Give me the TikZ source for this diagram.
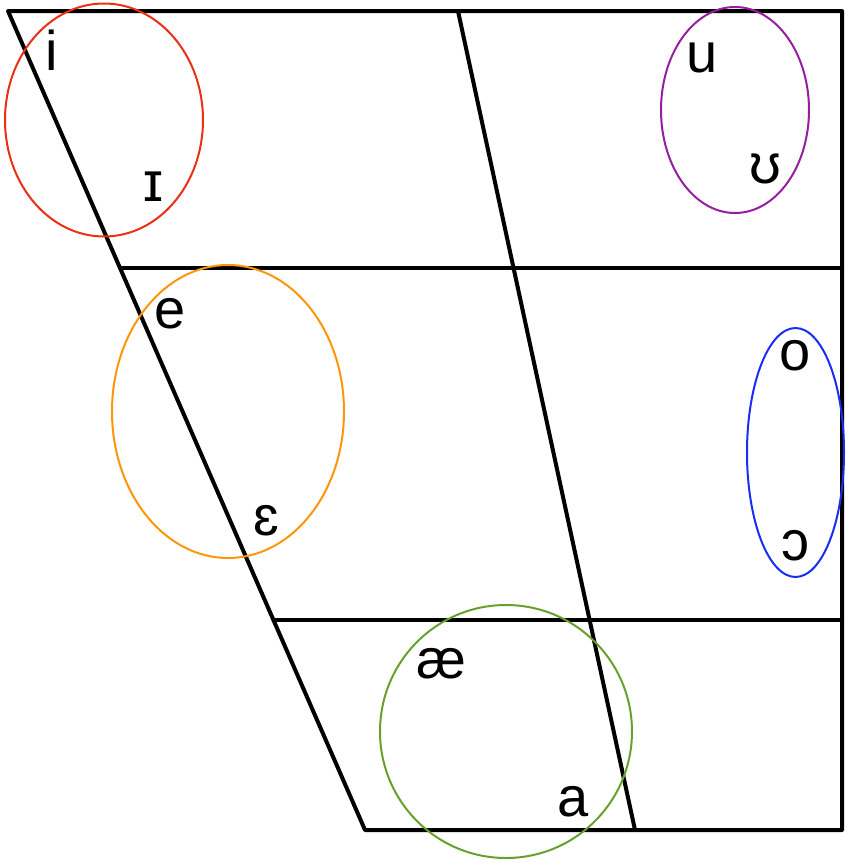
\documentclass[tikz,border=0pt]{standalone}
\usepackage{fontspec}
\setmainfont{Liberation Sans}
\definecolor{closered}{RGB}{232,48,18}
\definecolor{midorange}{RGB}{255,150,10}
\definecolor{backpurple}{RGB}{150,30,160}
\definecolor{backblue}{RGB}{25,45,245}
\definecolor{opengreen}{RGB}{105,160,45}
\begin{document}
\begin{tikzpicture}[x=0.5pt,y=-0.5pt,
    chart/.style={line width=2pt, line cap=round, line join=round},
    ring/.style={line width=1pt},
    vowel/.style={anchor=base, inner sep=0pt, font=\fontsize{28}{28}\selectfont}]
    \useasboundingbox (0,0) rectangle (850,863);
    % trapezium corners
    \coordinate (TL) at (8,11);
    \coordinate (TR) at (842,11);
    \coordinate (BR) at (842,830);
    \coordinate (BL) at (365,830);
    \coordinate (TM) at (458,11);
    \coordinate (BM) at (635,830);
    \coordinate (HA) at (120,268);
    \coordinate (HAr) at (842,268);
    \coordinate (HB) at (273.5,620);
    \coordinate (HBr) at (842,620);
    \draw[chart] (TL) -- (TR) -- (BR) -- (BL) -- cycle;
    \draw[chart] (TM) -- (BM);
    \draw[chart] (HA) -- (HAr);
    \draw[chart] (HB) -- (HBr);
    % groups
    \draw[ring, closered] (104,120) ellipse [x radius=99, y radius=116.5];
    \draw[ring, backpurple] (735,110) ellipse [x radius=74, y radius=103];
    \draw[ring, midorange] (228,411.5) ellipse [x radius=116, y radius=146.5];
    \draw[ring, backblue] (795.5,452.5) ellipse [x radius=48.5, y radius=124.5];
    \draw[ring, opengreen] (506,731.5) ellipse [x radius=126, y radius=126.5];
    % vowels
    \node[vowel] (i) at (52,70) {i};
    \node[vowel] (I) at (153,201) {ɪ};
    \node[vowel] (u) at (702,72) {u};
    \node[vowel] (U) at (765,183) {ʊ};
    \node[vowel] (e) at (170,328) {e};
    \node[vowel] (E) at (266,535) {ɛ};
    \node[vowel] (o) at (795,370) {o};
    \node[vowel] (O) at (795,560) {ɔ};
    \node[vowel] (ae) at (441,678) {æ};
    \node[vowel] (a) at (573,816) {a};
\end{tikzpicture}
\end{document}
